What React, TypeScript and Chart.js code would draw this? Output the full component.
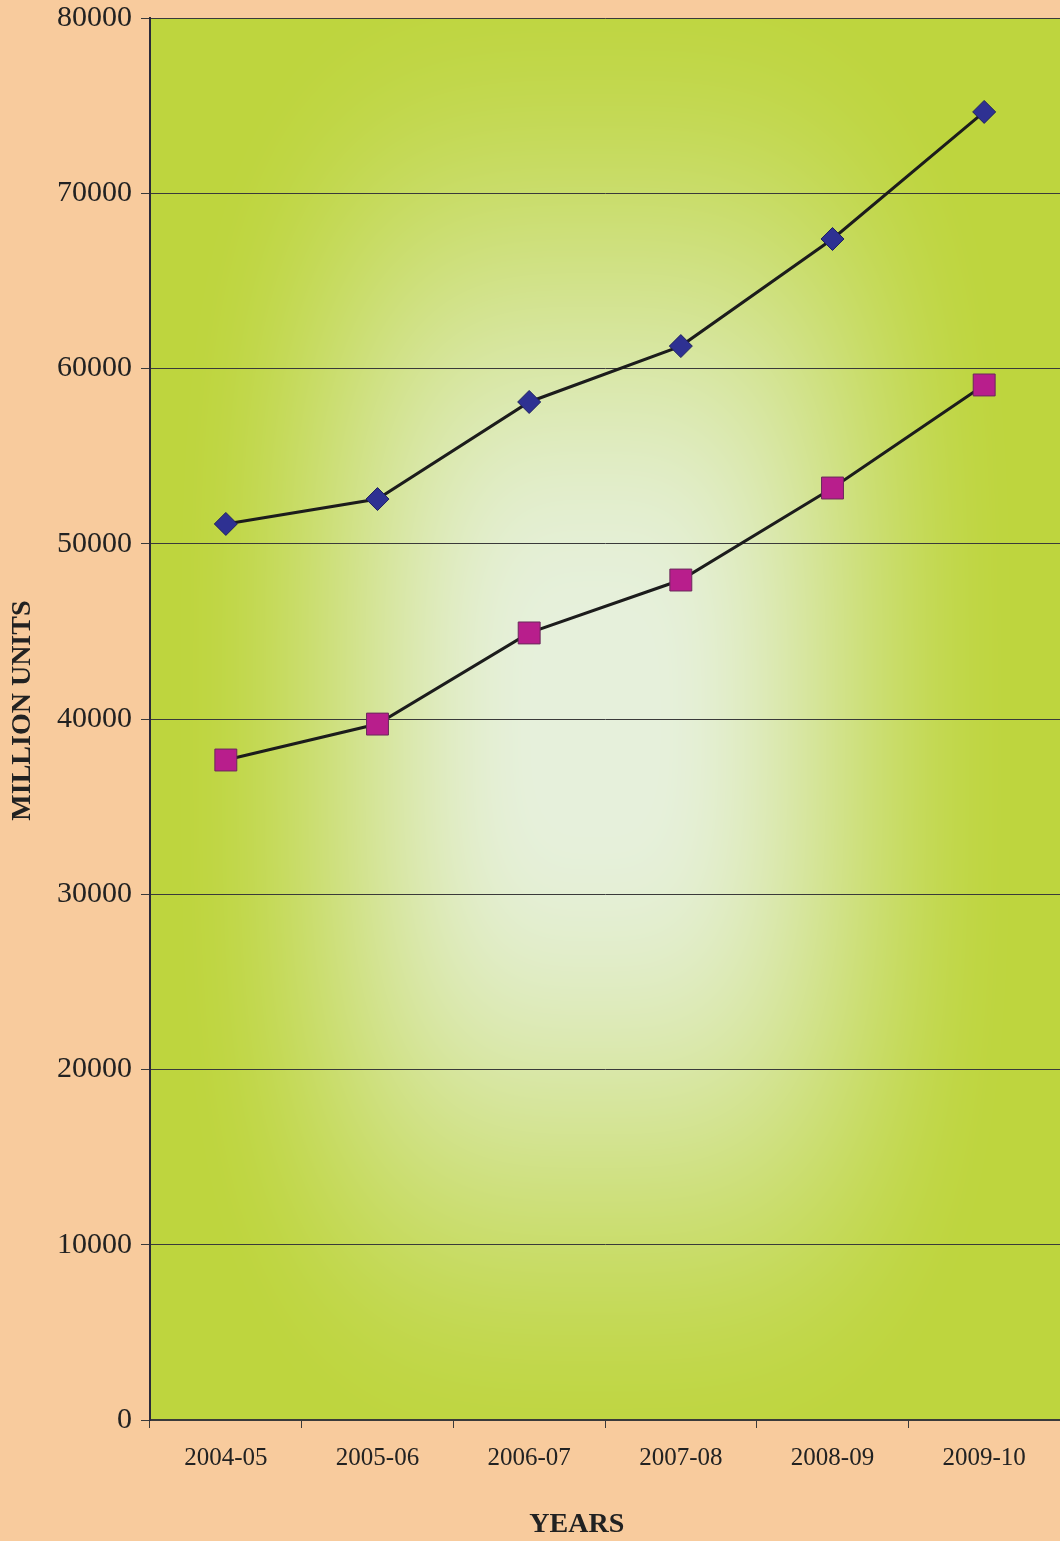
import React, { useEffect, useRef } from "react";
import { Chart, registerables } from "chart.js";

Chart.register(...registerables);

const categories = ["2004-05", "2005-06", "2006-07", "2007-08", "2008-09", "2009-10"];
const seriesDiamond = [51130, 52550, 58090, 61280, 67390, 74640];
const seriesSquare = [37660, 39710, 44910, 47930, 53180, 59060];
const yTicks = [0, 10000, 20000, 30000, 40000, 50000, 60000, 70000, 80000];
const xTitle = "YEARS";
const yTitle = "MILLION UNITS";

const W = 1060;
const H = 1541;
const TITLE_FONT = "bold 28px 'Liberation Serif'";

const bgPlugin = {
  id: "bgPlugin",
  beforeDraw(chart: any) {
    const { ctx, chartArea } = chart;
    ctx.save();
    ctx.fillStyle = "#F8CB9D";
    ctx.fillRect(0, 0, chart.width, chart.height);
    const left = Math.round(chartArea.left);
    const top = Math.round(chartArea.top);
    const w = Math.round(chartArea.right - chartArea.left);
    const h = Math.round(chartArea.bottom - chartArea.top);
    const img = ctx.createImageData(w, h);
    const light = [230, 240, 219];
    const green = [190, 213, 62];
    const cx = 595 - left;
    const cy = 720 - top;
    const hw = 440;
    const hh = 790;
    const p = 3.2;
    for (let y = 0; y < h; y++) {
      const dy = Math.abs((y - cy) / hh);
      const dyp = Math.pow(dy, p);
      for (let x = 0; x < w; x++) {
        const dx = Math.abs((x - cx) / hw);
        let t = Math.pow(Math.pow(dx, p) + dyp, 1 / p);
        t = (t - 0.12) / 0.85;
        if (t < 0) t = 0;
        if (t > 1) t = 1;
        t = t * t * (3 - 2 * t);
        const i = (y * w + x) * 4;
        img.data[i] = light[0] + (green[0] - light[0]) * t;
        img.data[i + 1] = light[1] + (green[1] - light[1]) * t;
        img.data[i + 2] = light[2] + (green[2] - light[2]) * t;
        img.data[i + 3] = 255;
      }
    }
    ctx.putImageData(img, left, top);
    ctx.restore();
  },
  afterDraw(chart: any) {
    const { ctx, chartArea } = chart;
    ctx.save();
    ctx.fillStyle = "#222";
    ctx.font = TITLE_FONT;
    ctx.textAlign = "center";
    ctx.textBaseline = "middle";
    // x-axis title, slightly left of the plot centre as in the reference
    const xt = chartArea.left + (chartArea.right - chartArea.left) * 0.469;
    ctx.fillText(xTitle, xt, chart.height - 16);
    // y-axis title, rotated
    const yt = chartArea.top + (chartArea.bottom - chartArea.top) * 0.494;
    ctx.translate(23, yt);
    ctx.rotate(-Math.PI / 2);
    ctx.fillText(yTitle, 0, 0);
    ctx.restore();
  },
};

export default function App() {
  const ref = useRef<HTMLCanvasElement | null>(null);
  useEffect(() => {
    if (!ref.current) return;
    const chart = new Chart(ref.current, {
      type: "line",
      data: {
        labels: categories,
        datasets: [
          {
            label: "Series 1",
            data: seriesDiamond,
            borderColor: "#1c1c1c",
            borderWidth: 3,
            pointStyle: "rectRot",
            pointRadius: 11.5,
            pointBackgroundColor: "#2E3192",
            pointBorderColor: "#1f2160",
            pointBorderWidth: 1,
            tension: 0,
          },
          {
            label: "Series 2",
            data: seriesSquare,
            borderColor: "#1c1c1c",
            borderWidth: 3,
            pointStyle: "rect",
            pointRadius: 15.5,
            pointBackgroundColor: "#B81E8C",
            pointBorderColor: "#6a2a5a",
            pointBorderWidth: 1,
            tension: 0,
          },
        ],
      },
      options: {
        responsive: false,
        animation: false,
        layout: { autoPadding: false, padding: { top: 18, right: 0, bottom: 0, left: 0 } },
        plugins: {
          legend: { display: false },
          tooltip: { enabled: false },
        },
        scales: {
          x: {
            type: "category",
            offset: true,
            grid: {
              offset: true,
              drawOnChartArea: false,
              drawTicks: true,
              tickLength: 8,
              color: "#3a3a3a",
              lineWidth: 1,
            },
            border: { display: true, color: "#3a3a3a", width: 2 },
            ticks: {
              color: "#222",
              padding: 15,
              maxRotation: 0,
              font: { family: "Liberation Serif", size: 25 },
            },
            title: { display: false },
            afterFit(scale: any) {
              scale.height = 121;
              scale.paddingLeft = 0;
              scale.paddingRight = 0;
            },
          },
          y: {
            min: 0,
            max: 80000,
            afterBuildTicks(scale: any) {
              scale.ticks = yTicks.map((v) => ({ value: v }));
            },
            grid: {
              drawOnChartArea: true,
              drawTicks: true,
              tickLength: 9,
              color: "#3a3a3a",
              lineWidth: 1,
            },
            border: { display: true, color: "#2a2a3a", width: 2 },
            ticks: {
              color: "#222",
              padding: 9,
              font: { family: "Liberation Serif", size: 30 },
              callback: (v: any) => String(v),
            },
            title: { display: false },
            afterFit(scale: any) {
              scale.width = 150;
              scale.paddingTop = 0;
              scale.paddingBottom = 0;
            },
          },
        },
      },
      plugins: [bgPlugin],
    });
    return () => chart.destroy();
  }, []);
  return (
    <div style={{ position: "absolute", left: 0, top: 0, width: W, height: H }}>
      <canvas ref={ref} width={W} height={H} style={{ display: "block", width: W, height: H }} />
    </div>
  );
}
